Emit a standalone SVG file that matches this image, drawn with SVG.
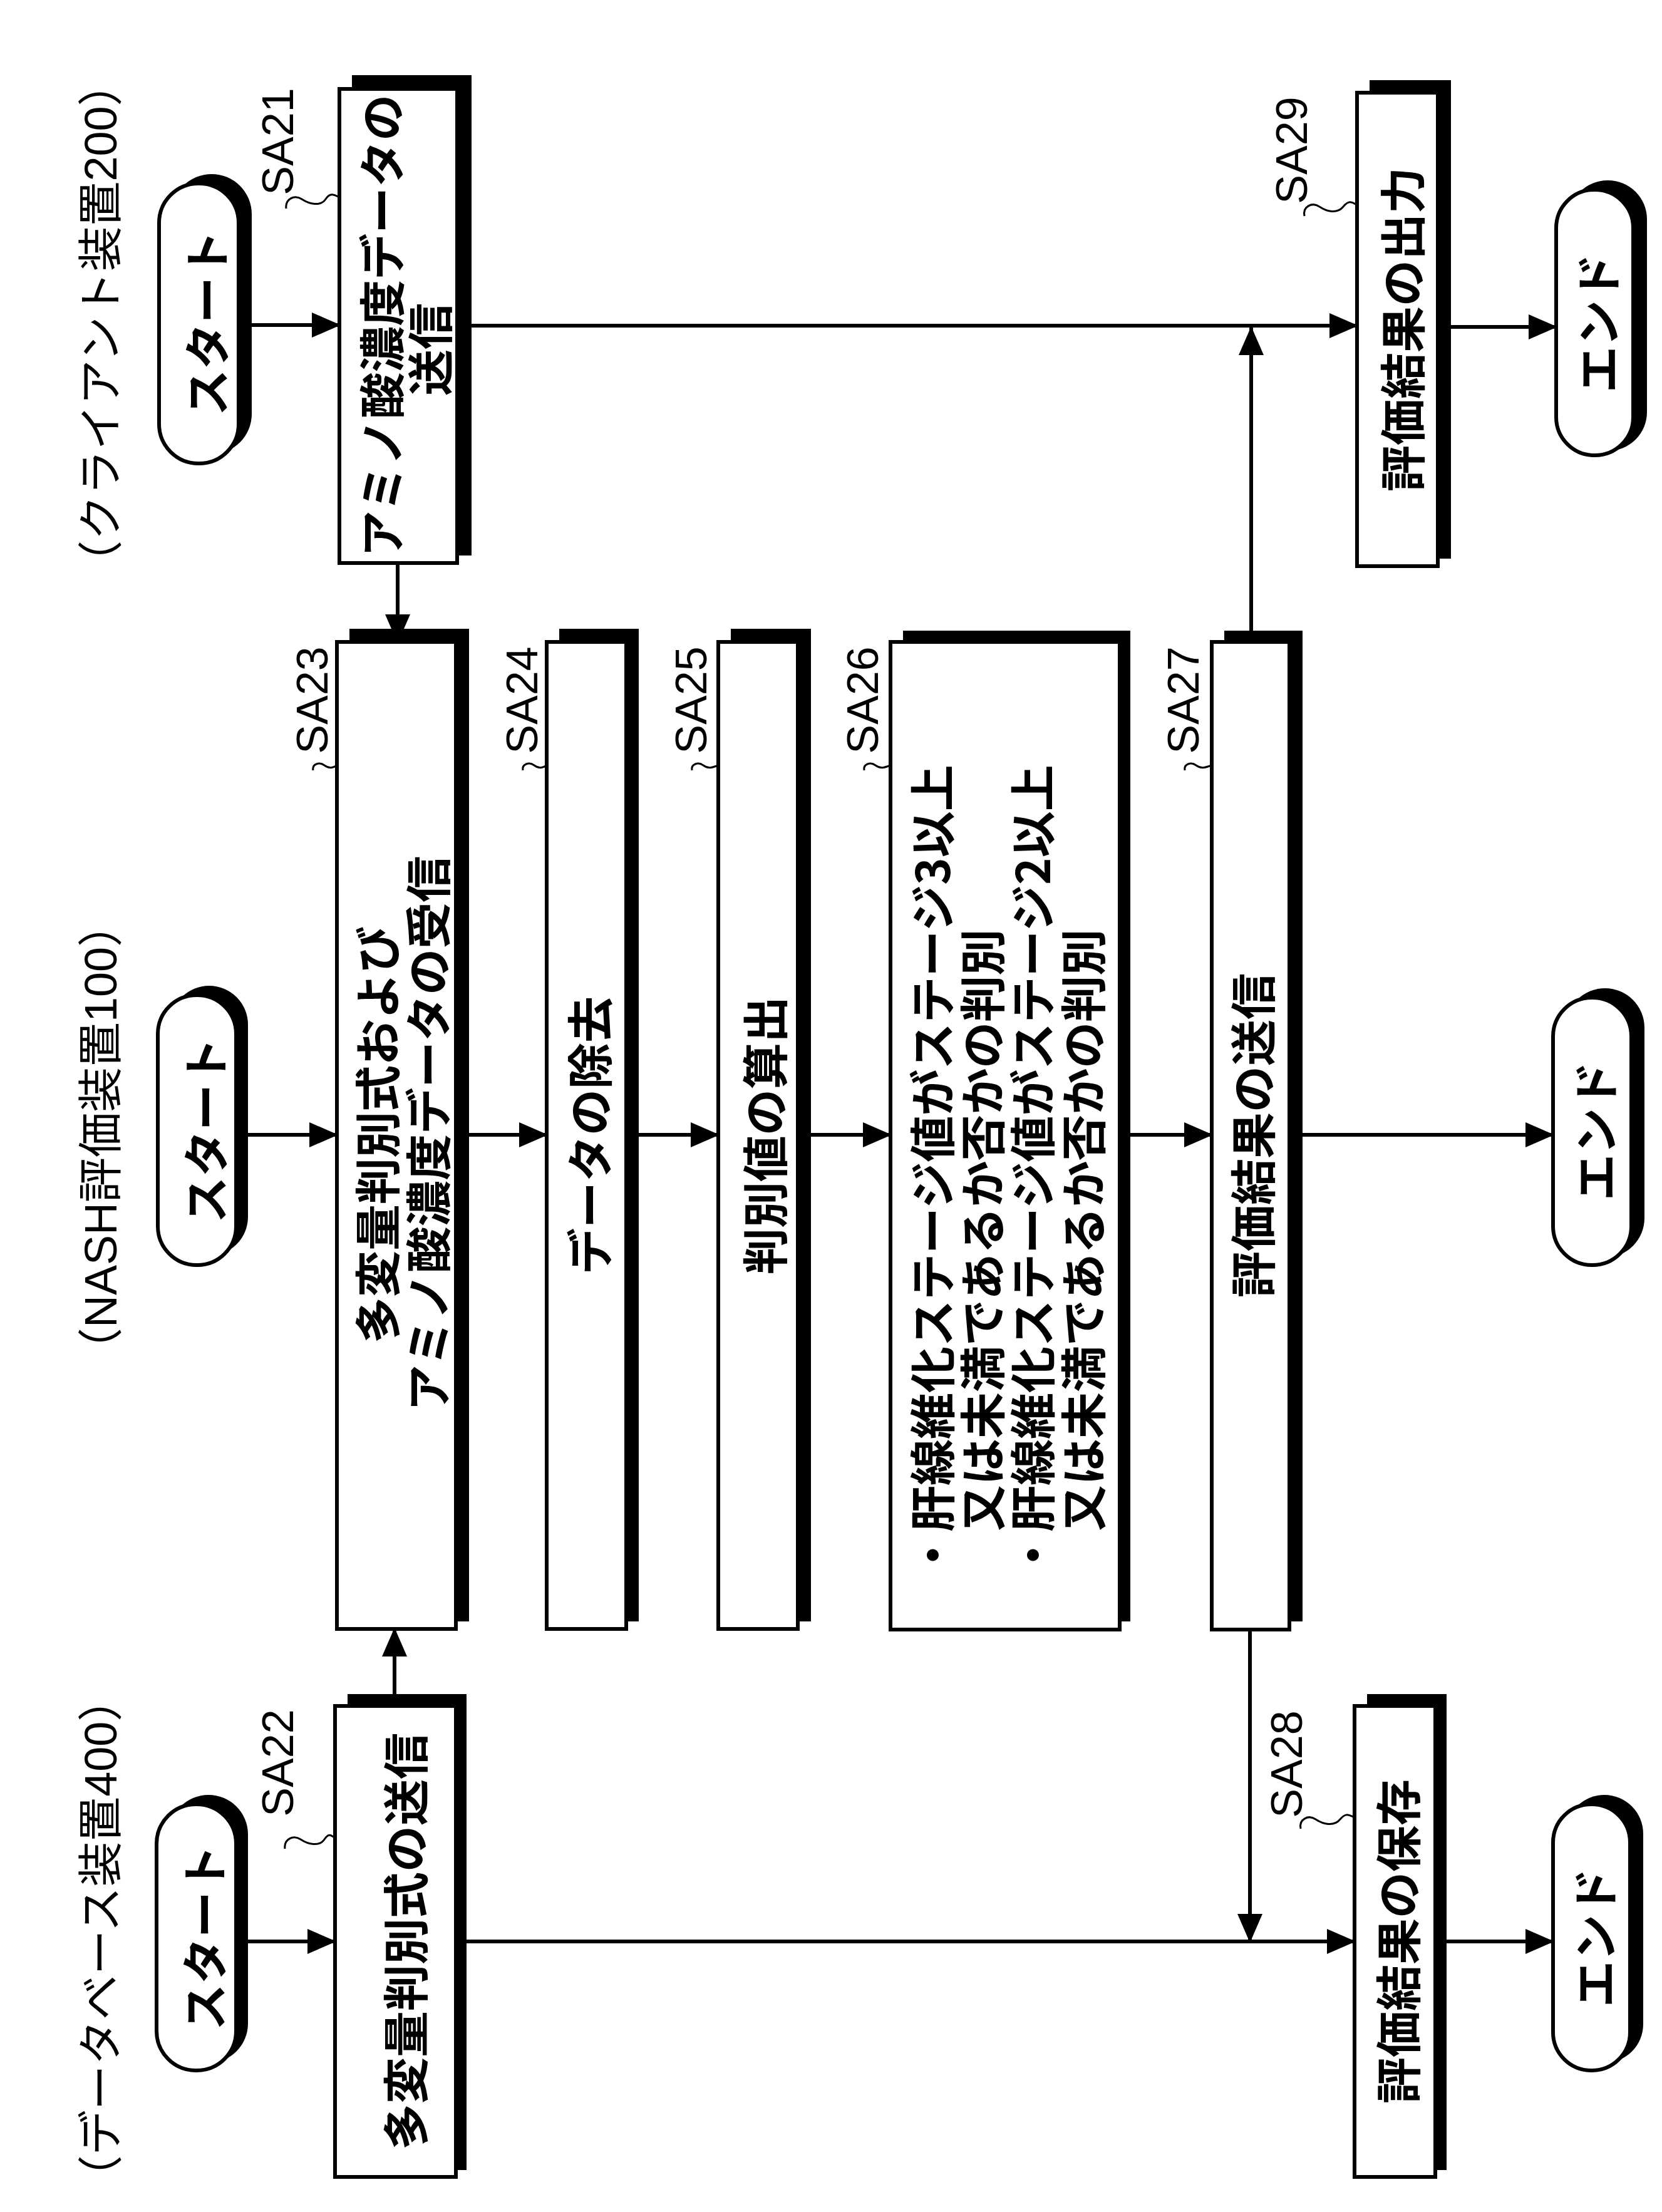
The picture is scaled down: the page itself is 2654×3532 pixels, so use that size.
<svg xmlns="http://www.w3.org/2000/svg" width="2654" height="3532" viewBox="0 0 2654 3532">
<style>
.bx{fill:#fff;stroke:#000;stroke-width:6}
.sh{fill:#000}
.t{font-family:"Noto Sans CJK JP","Liberation Sans",sans-serif;font-size:74px;font-weight:700;fill:#000;text-anchor:middle;dominant-baseline:central}
.l{font-family:"Liberation Sans","Noto Sans CJK JP",sans-serif;font-size:70px;fill:#000;text-anchor:middle;dominant-baseline:central}
.lane{font-family:"Liberation Sans","Noto Sans CJK JP",sans-serif;font-size:72px;fill:#000;text-anchor:middle;dominant-baseline:central}
.c{fill:none;stroke:#000;stroke-width:6}
.sq{fill:none;stroke:#000;stroke-width:3}
</style>
<defs>
<marker id="ah" markerUnits="userSpaceOnUse" markerWidth="46" markerHeight="40" refX="44" refY="20" orient="auto">
<path d="M0,0 L46,20 L0,40 Z" fill="#000"/>
</marker>
</defs>
<rect width="2654" height="3532" fill="#fff"/>

<text class="lane" transform="translate(161,516) rotate(-90)">（クライアント装置200）</text>
<text class="lane" transform="translate(161,1816) rotate(-90)">（NASH評価装置100）</text>
<text class="lane" transform="translate(161,3095) rotate(-90)">（データベース装置400）</text>

<g id="connectors">
<path class="c" d="M381,519 H542" marker-end="url(#ah)"/>
<path class="c" d="M730,520 H2167" marker-end="url(#ah)"/>
<path class="c" d="M1998,1025 V523" marker-end="url(#ah)"/>
<path class="c" d="M2296,522 H2485" marker-end="url(#ah)"/>
<path class="c" d="M635,899 V1025" marker-end="url(#ah)"/>
<path class="c" d="M377,1812 H538" marker-end="url(#ah)"/>
<path class="c" d="M728,1812 H873" marker-end="url(#ah)"/>
<path class="c" d="M1000,1812 H1147" marker-end="url(#ah)"/>
<path class="c" d="M1274,1812 H1422" marker-end="url(#ah)"/>
<path class="c" d="M1788,1812 H1935" marker-end="url(#ah)"/>
<path class="c" d="M2059,1812 H2480" marker-end="url(#ah)"/>
<path class="c" d="M630,2724 V2601" marker-end="url(#ah)"/>
<path class="c" d="M377,3100 H535" marker-end="url(#ah)"/>
<path class="c" d="M728,3100 H2163" marker-end="url(#ah)"/>
<path class="c" d="M1996,2601 V3100" marker-end="url(#ah)"/>
<path class="c" d="M2292,3100 H2480" marker-end="url(#ah)"/>
</g>

<g id="start-client">
<rect class="sh" x="274" y="278" width="128" height="447" rx="64"/>
<rect class="bx" x="254" y="293" width="127" height="447" rx="63"/>
<text class="t" transform="translate(326,516) rotate(-90)">スタート</text>
</g>
<g id="SA21">
<rect class="sh" x="562" y="120" width="191" height="767"/>
<rect class="bx" x="542" y="142" width="188" height="757"/>
<text class="t" transform="translate(605,520) rotate(-90)">アミノ酸濃度データの</text>
<text class="t" transform="translate(682,558) rotate(-90)">送信</text>
<text class="l" transform="translate(444,226) rotate(-90)">SA21</text>
<path class="sq" d="M457,333 C455,318 470,310 482,318 S512,330 520,318 S535,312 542,315"/>
</g>
<g id="SA29">
<rect class="sh" x="2187" y="128" width="130" height="764"/>
<rect class="bx" x="2167" y="148" width="129" height="756"/>
<text class="t" transform="translate(2235,526) rotate(-90)">評価結果の出力</text>
<text class="l" transform="translate(2063,240) rotate(-90)">SA29</text>
<path class="sq" d="M2083,345 C2080,330 2095,322 2107,330 S2135,342 2145,330 S2160,324 2167,327"/>
</g>
<g id="end-client">
<rect class="sh" x="2505" y="288" width="125" height="432" rx="62"/>
<rect class="bx" x="2485" y="303" width="123" height="424" rx="61"/>
<text class="t" transform="translate(2547,516) rotate(-90)">エンド</text>
</g>

<g id="start-nash">
<rect class="sh" x="272" y="1574" width="124" height="431" rx="62"/>
<rect class="bx" x="252" y="1589" width="125" height="431" rx="62"/>
<text class="t" transform="translate(324,1805) rotate(-90)">スタート</text>
</g>
<g id="SA23">
<rect class="sh" x="558" y="1004" width="191" height="1585"/>
<rect class="bx" x="538" y="1025" width="190" height="1576"/>
<text class="t" transform="translate(598,1812) rotate(-90)">多変量判別式および</text>
<text class="t" transform="translate(679,1810) rotate(-90)">アミノ酸濃度データの受信</text>
<text class="l" transform="translate(499,1118) rotate(-90)">SA23</text>
<path class="sq" d="M500,1230 C498,1220 510,1216 518,1222 S532,1226 538,1222"/>
</g>
<g id="SA24">
<rect class="sh" x="893" y="1004" width="127" height="1585"/>
<rect class="bx" x="873" y="1025" width="127" height="1576"/>
<text class="t" transform="translate(937,1813) rotate(-90)">データの除去</text>
<text class="l" transform="translate(834,1118) rotate(-90)">SA24</text>
<path class="sq" d="M835,1230 C833,1220 845,1216 853,1222 S867,1226 873,1222"/>
</g>
<g id="SA25">
<rect class="sh" x="1167" y="1004" width="128" height="1585"/>
<rect class="bx" x="1147" y="1025" width="127" height="1576"/>
<text class="t" transform="translate(1217,1813) rotate(-90)">判別値の算出</text>
<text class="l" transform="translate(1104,1118) rotate(-90)">SA25</text>
<path class="sq" d="M1105,1230 C1103,1220 1115,1216 1123,1222 S1137,1226 1147,1222"/>
</g>
<g id="SA26">
<rect class="sh" x="1442" y="1007" width="363" height="1582"/>
<rect class="bx" x="1422" y="1025" width="366" height="1577"/>
<text class="t" style="text-anchor:start" transform="translate(1484,2520) rotate(-90)">・肝線維化ステージ値がステージ3以上</text>
<text class="t" style="text-anchor:start" transform="translate(1564,2445) rotate(-90)">又は未満であるか否かの判別</text>
<text class="t" style="text-anchor:start" transform="translate(1644,2520) rotate(-90)">・肝線維化ステージ値がステージ2以上</text>
<text class="t" style="text-anchor:start" transform="translate(1725,2445) rotate(-90)">又は未満であるか否かの判別</text>
<text class="l" transform="translate(1378,1118) rotate(-90)">SA26</text>
<path class="sq" d="M1380,1230 C1378,1220 1390,1216 1398,1222 S1412,1226 1422,1222"/>
</g>
<g id="SA27">
<rect class="sh" x="1955" y="1007" width="125" height="1582"/>
<rect class="bx" x="1935" y="1025" width="124" height="1577"/>
<text class="t" transform="translate(1996,1813) rotate(-90)">評価結果の送信</text>
<text class="l" transform="translate(1890,1118) rotate(-90)">SA27</text>
<path class="sq" d="M1892,1230 C1890,1220 1902,1216 1910,1222 S1924,1226 1935,1222"/>
</g>
<g id="end-nash">
<rect class="sh" x="2500" y="1578" width="126" height="430" rx="63"/>
<rect class="bx" x="2480" y="1593" width="125" height="427" rx="62"/>
<text class="t" transform="translate(2543,1806) rotate(-90)">エンド</text>
</g>

<g id="start-db">
<rect class="sh" x="270" y="2866" width="126" height="428" rx="63"/>
<rect class="bx" x="250" y="2881" width="127" height="425" rx="63"/>
<text class="t" transform="translate(322,3094) rotate(-90)">スタート</text>
</g>
<g id="SA22">
<rect class="sh" x="555" y="2705" width="190" height="760"/>
<rect class="bx" x="535" y="2724" width="193" height="752"/>
<text class="t" transform="translate(643,3100) rotate(-90)">多変量判別式の送信</text>
<text class="l" transform="translate(444,2815) rotate(-90)">SA22</text>
<path class="sq" d="M455,2952 C453,2937 468,2929 480,2937 S510,2949 518,2937 S530,2932 535,2935"/>
</g>
<g id="SA28">
<rect class="sh" x="2183" y="2705" width="127" height="760"/>
<rect class="bx" x="2163" y="2724" width="129" height="752"/>
<text class="t" transform="translate(2228,3100) rotate(-90)">評価結果の保存</text>
<text class="l" transform="translate(2055,2817) rotate(-90)">SA28</text>
<path class="sq" d="M2077,2920 C2074,2905 2089,2897 2101,2905 S2130,2917 2140,2905 S2155,2899 2163,2902"/>
</g>
<g id="end-db">
<rect class="sh" x="2500" y="2866" width="124" height="428" rx="62"/>
<rect class="bx" x="2480" y="2881" width="123" height="425" rx="61"/>
<text class="t" transform="translate(2542,3094) rotate(-90)">エンド</text>
</g>
</svg>
